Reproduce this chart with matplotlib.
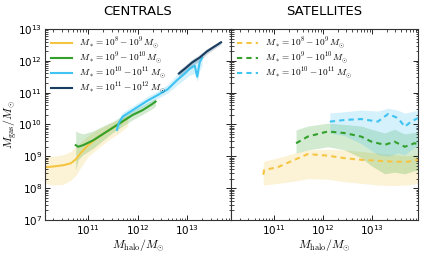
import numpy as np
import matplotlib
matplotlib.use('Agg')
import matplotlib.pyplot as plt

plt.rcParams['mathtext.fontset'] = 'cm'

# centrals (log10 Mhalo, log10 Mgas median, band lo, band hi)
cen_lo_x = [10.10, 10.30, 10.50, 10.65, 10.75, 10.85, 11.00, 11.20, 11.40, 11.60, 11.80]
cen_lo_y = [8.65, 8.68, 8.72, 8.78, 8.90, 9.10, 9.35, 9.60, 9.80, 10.00, 10.20]
cen_lo_dn = [8.15, 8.10, 8.12, 8.25, 8.40, 8.65, 9.00, 9.25, 9.50, 9.70, 9.95]
cen_lo_up = [9.00, 9.00, 9.05, 9.15, 9.30, 9.45, 9.65, 9.85, 10.00, 10.15, 10.30]

cen_mid_x = [10.75, 10.80, 10.90, 11.10, 11.30, 11.50, 11.70, 11.90, 12.10, 12.30, 12.36]
cen_mid_y = [9.35, 9.30, 9.35, 9.50, 9.70, 9.90, 10.10, 10.30, 10.45, 10.65, 10.72]
cen_mid_dn = [8.55, 8.90, 9.05, 9.25, 9.50, 9.75, 9.95, 10.15, 10.32, 10.50, 10.58]
cen_mid_up = [9.80, 9.75, 9.70, 9.80, 9.95, 10.10, 10.28, 10.45, 10.60, 10.78, 10.82]

cen_hi_x = [11.58, 11.62, 11.70, 11.80, 12.00, 12.20, 12.40, 12.60, 12.80, 12.95, 13.05, 13.15, 13.20, 13.25, 13.30]
cen_hi_y = [9.83, 10.05, 10.25, 10.35, 10.55, 10.75, 10.92, 11.10, 11.40, 11.60, 11.75, 11.85, 11.50, 11.95, 12.10]
cen_hi_dn = [9.70, 9.90, 10.12, 10.24, 10.44, 10.64, 10.82, 10.98, 11.25, 11.42, 11.55, 11.60, 11.35, 11.70, 11.85]
cen_hi_up = [10.00, 10.20, 10.38, 10.48, 10.68, 10.88, 11.05, 11.25, 11.58, 11.78, 11.92, 12.02, 12.00, 12.12, 12.22]

cen_top_x = [12.83, 12.95, 13.10, 13.25, 13.40, 13.55, 13.68]
cen_top_y = [11.60, 11.75, 11.95, 12.10, 12.30, 12.45, 12.58]
cen_top_dn = [11.50, 11.65, 11.85, 12.00, 12.22, 12.38, 12.52]
cen_top_up = [11.70, 11.85, 12.05, 12.20, 12.38, 12.52, 12.64]

# satellites
sat_lo_x = [10.78, 10.80, 11.08, 11.42, 11.69, 12.10, 12.44, 12.78, 13.12, 13.46, 13.73, 13.94]
sat_lo_y = [8.42, 8.57, 8.66, 8.89, 9.07, 9.02, 8.94, 8.89, 8.86, 8.83, 8.83, 8.89]
sat_lo_dn = [8.10, 8.10, 8.15, 8.22, 8.30, 8.28, 8.20, 8.15, 8.10, 8.08, 8.10, 8.15]
sat_lo_up = [8.78, 8.85, 8.95, 9.10, 9.20, 9.22, 9.20, 9.15, 9.10, 9.05, 9.02, 9.05]

sat_mid_x = [11.45, 11.69, 12.10, 12.44, 12.78, 12.99, 13.26, 13.46, 13.67, 13.87, 13.94]
sat_mid_y = [9.41, 9.62, 9.78, 9.73, 9.62, 9.46, 9.36, 9.46, 9.30, 9.41, 9.38]
sat_mid_dn = [9.10, 9.20, 9.30, 9.20, 8.95, 8.70, 8.45, 8.50, 8.45, 8.55, 8.55]
sat_mid_up = [9.83, 9.95, 10.04, 10.00, 9.95, 9.85, 9.73, 9.85, 9.70, 9.75, 9.75]

sat_hi_x = [12.14, 12.44, 12.78, 13.12, 13.33, 13.53, 13.67, 13.80, 13.94]
sat_hi_y = [10.09, 10.14, 10.17, 10.09, 10.33, 10.20, 9.93, 10.09, 10.20]
sat_hi_dn = [9.73, 9.65, 9.40, 9.05, 9.00, 9.10, 9.05, 9.20, 9.35]
sat_hi_up = [10.36, 10.40, 10.45, 10.42, 10.51, 10.45, 10.35, 10.40, 10.45]

colors = ['#f5c542', '#33a02c', '#3ec3f3', '#173c5e']
labels = [r'$M_* = 10^{8} - 10^{9}\,M_{\odot}$',
          r'$M_* = 10^{9} - 10^{10}\,M_{\odot}$',
          r'$M_* = 10^{10} - 10^{11}\,M_{\odot}$',
          r'$M_* = 10^{11} - 10^{12}\,M_{\odot}$']

cen = [(cen_lo_x, cen_lo_y, cen_lo_dn, cen_lo_up),
       (cen_mid_x, cen_mid_y, cen_mid_dn, cen_mid_up),
       (cen_hi_x, cen_hi_y, cen_hi_dn, cen_hi_up),
       (cen_top_x, cen_top_y, cen_top_dn, cen_top_up)]
sat = [(sat_lo_x, sat_lo_y, sat_lo_dn, sat_lo_up),
       (sat_mid_x, sat_mid_y, sat_mid_dn, sat_mid_up),
       (sat_hi_x, sat_hi_y, sat_hi_dn, sat_hi_up)]

fig = plt.figure(figsize=(4.22, 2.54), dpi=100)
ax1 = fig.add_axes([0.1066, 0.134, 0.4406, 0.752])
ax2 = fig.add_axes([0.5472, 0.134, 0.4433, 0.752])

for i, (x, y, lo, hi) in enumerate(cen):
    x = 10 ** np.array(x)
    ax1.fill_between(x, 10 ** np.array(lo), 10 ** np.array(hi), color=colors[i], alpha=0.22, lw=0)
    ax1.plot(x, 10 ** np.array(y), color=colors[i], lw=1.5, label=labels[i])

for i, (x, y, lo, hi) in enumerate(sat):
    x = 10 ** np.array(x)
    ax2.fill_between(x, 10 ** np.array(lo), 10 ** np.array(hi), color=colors[i], alpha=0.22, lw=0)
    ax2.plot(x, 10 ** np.array(y), color=colors[i], lw=1.5, ls=(0, (2.5, 2)), label=labels[i])

for ax in (ax1, ax2):
    ax.set_xscale('log')
    ax.set_yscale('log')
    ax.set_ylim(1e7, 1e13)
    ax.tick_params(which='both', direction='in', top=True, right=True, labelsize=7.5, pad=2)
    ax.tick_params(which='major', length=3.5, width=0.6)
    ax.tick_params(which='minor', length=1.8, width=0.5)
    ax.set_xlabel(r'$M_{\rm halo}/M_{\odot}$', fontsize=8.5, labelpad=0)
    ax.legend(loc='upper left', fontsize=6.7, frameon=False, handlelength=2.2,
              borderaxespad=0.3, labelspacing=-0.05, handletextpad=0.8)
    for s in ax.spines.values():
        s.set_linewidth(0.8)
        s.set_color('#333333')

ax1.set_xlim(10 ** 10.13, 10 ** 13.88)
ax2.set_xlim(10 ** 10.12, 10 ** 13.94)
ax2.set_yticklabels([])
ax2.tick_params(axis='y', which='minor', labelleft=False)
ax1.set_ylabel(r'$M_{\rm gas}/M_{\odot}$', fontsize=8.5)
ax1.yaxis.set_label_coords(-0.14, 0.5)
ax1.set_title('CENTRALS', fontsize=9.5, pad=10)
ax2.set_title('SATELLITES', fontsize=9.5, pad=10)

fig.savefig('out.png', dpi=100)
